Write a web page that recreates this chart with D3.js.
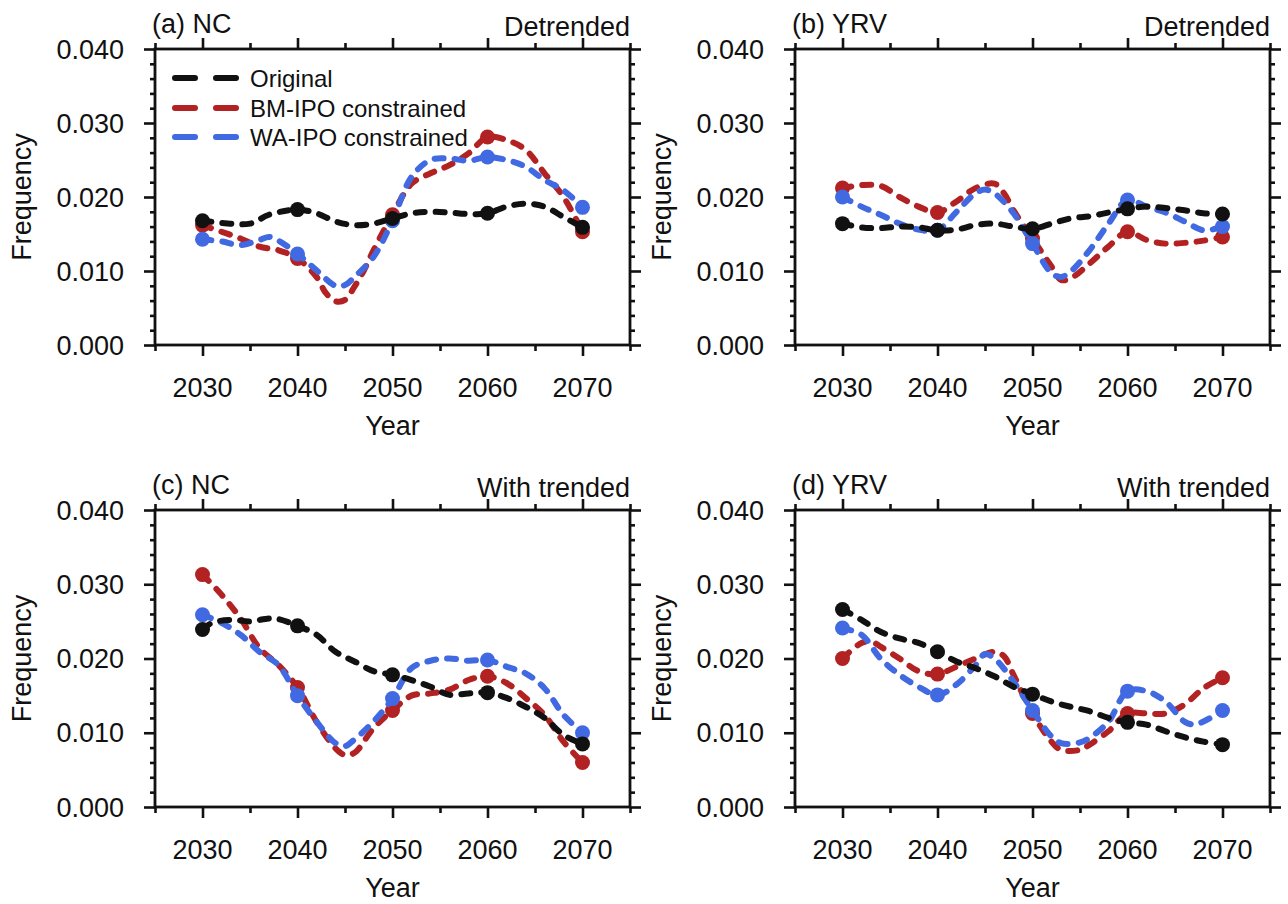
<!DOCTYPE html>
<html>
<head>
<meta charset="utf-8">
<script src="https://cdn.jsdelivr.net/npm/d3@7"></script>
<style>
  html, body { margin: 0; padding: 0; background: #fff; }
  text { font-family: "Liberation Sans", Arial, Helvetica, sans-serif; fill: #111; }
</style>
</head>
<body>
<svg id="chart" width="1288" height="904"></svg>
<script>
// ---------------- data ----------------
const xTickValues = [2030, 2040, 2050, 2060, 2070];
const yTickValues = [0.000, 0.010, 0.020, 0.030, 0.040];
const seriesNames = ["Original", "BM-IPO constrained", "WA-IPO constrained"];
const seriesColors = ["#111111", "#B22222", "#4169E1"];
const panelLeftTitles = ["(a) NC", "(b) YRV", "(c) NC", "(d) YRV"];
const panelRightTitles = ["Detrended", "Detrended", "With trended", "With trended"];

// (a) NC detrended
const ncDetOriginal = [[2030,.0168],[2032,.0165],[2035,.0164],[2037,.0176],[2040,.0183],[2042,.0178],[2044,.0167],[2046,.0162],[2048,.0164],[2050,.0171],[2052,.0178],[2054,.0180],[2056,.0179],[2058,.0177],[2060,.0178],[2062,.0187],[2064,.0191],[2066,.0187],[2068,.0173],[2070,.0159]];
const ncDetBM = [[2030,.0162],[2032,.0153],[2034,.0144],[2036,.0133],[2038,.0128],[2040,.0117],[2042,.0092],[2043,.0070],[2044,.0059],[2045,.0061],[2046,.0079],[2047,.0101],[2048,.0128],[2050,.0176],[2052,.0218],[2054,.0232],[2056,.0243],[2058,.0259],[2060,.0281],[2062,.0277],[2064,.0264],[2066,.0232],[2068,.0200],[2070,.0153]];
const ncDetWA = [[2030,.0143],[2032,.0140],[2034,.0135],[2036,.0142],[2037,.0146],[2038,.0141],[2040,.0123],[2042,.0101],[2044,.0080],[2045,.0081],[2046,.0092],[2048,.0119],[2050,.0168],[2052,.0227],[2054,.0250],[2056,.0252],[2058,.0249],[2060,.0254],[2062,.0250],[2064,.0241],[2066,.0223],[2068,.0209],[2070,.0186]];

// (b) YRV detrended
const yrvDetOriginal = [[2030,.0164],[2032,.0159],[2034,.0158],[2036,.0160],[2038,.0159],[2040,.0155],[2042,.0156],[2044,.0162],[2046,.0164],[2048,.0160],[2050,.0157],[2052,.0164],[2054,.0171],[2056,.0174],[2058,.0179],[2060,.0184],[2062,.0187],[2064,.0185],[2066,.0182],[2068,.0178],[2070,.0177]];
const yrvDetBM = [[2030,.0212],[2032,.0216],[2034,.0215],[2036,.0200],[2038,.0187],[2040,.0179],[2042,.0194],[2044,.0212],[2046,.0218],[2047,.0205],[2048,.0182],[2050,.0144],[2052,.0106],[2053,.0088],[2054,.0090],[2056,.0110],[2058,.0133],[2060,.0153],[2062,.0142],[2064,.0137],[2066,.0138],[2068,.0141],[2070,.0146]];
const yrvDetWA = [[2030,.0200],[2032,.0187],[2034,.0176],[2036,.0164],[2038,.0156],[2040,.0155],[2042,.0180],[2044,.0205],[2045,.0210],[2046,.0205],[2048,.0178],[2050,.0137],[2052,.0097],[2053,.0092],[2054,.0099],[2056,.0128],[2058,.0164],[2060,.0196],[2062,.0187],[2064,.0179],[2066,.0167],[2068,.0155],[2070,.0160]];

// (c) NC with trend
const ncTrOriginal = [[2030,.0239],[2031,.0248],[2033,.0252],[2035,.0250],[2037,.0254],[2038,.0253],[2040,.0244],[2042,.0232],[2044,.0209],[2046,.0196],[2048,.0183],[2050,.0178],[2052,.0171],[2054,.0162],[2056,.0151],[2058,.0153],[2060,.0154],[2062,.0147],[2064,.0135],[2066,.0120],[2068,.0097],[2070,.0085]];
const ncTrBM = [[2030,.0313],[2032,.0286],[2034,.0254],[2036,.0214],[2038,.0191],[2040,.0161],[2042,.0115],[2044,.0079],[2045,.0070],[2046,.0073],[2048,.0106],[2050,.0130],[2052,.0150],[2054,.0153],[2056,.0158],[2058,.0171],[2060,.0176],[2062,.0167],[2064,.0147],[2066,.0124],[2068,.0088],[2070,.0060]];
const ncTrWA = [[2030,.0259],[2032,.0248],[2034,.0232],[2036,.0209],[2038,.0191],[2040,.0150],[2042,.0115],[2044,.0086],[2045,.0082],[2046,.0091],[2048,.0115],[2050,.0146],[2052,.0187],[2054,.0197],[2056,.0200],[2058,.0197],[2060,.0198],[2062,.0189],[2064,.0180],[2066,.0160],[2068,.0124],[2070,.0100]];

// (d) YRV with trend
const yrvTrOriginal = [[2030,.0266],[2032,.0252],[2034,.0236],[2036,.0227],[2038,.0221],[2040,.0209],[2042,.0196],[2044,.0187],[2046,.0176],[2048,.0162],[2050,.0152],[2052,.0142],[2054,.0135],[2056,.0129],[2058,.0120],[2060,.0114],[2062,.0111],[2064,.0102],[2066,.0094],[2068,.0088],[2070,.0084]];
const yrvTrBM = [[2030,.0200],[2032,.0221],[2033,.0223],[2034,.0216],[2036,.0200],[2038,.0183],[2040,.0179],[2042,.0189],[2044,.0200],[2046,.0209],[2047,.0203],[2048,.0178],[2050,.0126],[2052,.0088],[2053,.0077],[2055,.0077],[2056,.0084],[2058,.0102],[2060,.0126],[2062,.0126],[2064,.0126],[2066,.0138],[2068,.0160],[2070,.0174]];
const yrvTrWA = [[2030,.0241],[2032,.0232],[2034,.0200],[2036,.0178],[2038,.0162],[2040,.0151],[2042,.0165],[2044,.0191],[2045,.0206],[2046,.0200],[2048,.0169],[2050,.0130],[2052,.0095],[2053,.0086],[2055,.0087],[2056,.0093],[2058,.0115],[2060,.0156],[2062,.0156],[2064,.0142],[2066,.0115],[2067,.0111],[2068,.0115],[2070,.0130]];

const panelSeries = [
  [ncDetOriginal, ncDetBM, ncDetWA],
  [yrvDetOriginal, yrvDetBM, yrvDetWA],
  [ncTrOriginal, ncTrBM, ncTrWA],
  [yrvTrOriginal, yrvTrBM, yrvTrWA]
];

// ---------------- layout ----------------
const svg = d3.select("#chart");
svg.append("rect").attr("width", 1288).attr("height", 904).attr("fill", "#fff");

const frames = [
  {x0: 155, x1: 630, y0: 49, y1: 345},
  {x0: 795, x1: 1270, y0: 49, y1: 345},
  {x0: 155, x1: 630, y0: 510, y1: 807},
  {x0: 795, x1: 1270, y0: 510, y1: 807}
];

const ink = "#111";
const fmt = d3.format(".3f");

frames.forEach((f, pi) => {
  const x = d3.scaleLinear().domain([2025, 2075]).range([f.x0, f.x1]);
  const y = d3.scaleLinear().domain([0, 0.04]).range([f.y1, f.y0]);
  const g = svg.append("g");

  const xMinor = d3.range(2025, 2076, 5).filter(v => v % 10 !== 0);
  const yMinor = d3.range(0, 0.0401, 0.002).filter(v => Math.abs(Math.round(v * 1000) % 10) !== 0);

  const styleAxis = sel => {
    sel.select(".domain").remove();
    sel.selectAll("line").attr("stroke", ink).attr("stroke-width", 2.6);
  };
  g.append("g").attr("transform", `translate(0,${f.y1})`)
    .call(d3.axisBottom(x).tickValues(xTickValues).tickSize(11).tickFormat(""))
    .call(styleAxis);
  g.append("g").attr("transform", `translate(0,${f.y1})`)
    .call(d3.axisBottom(x).tickValues(xMinor).tickSize(6).tickFormat(""))
    .call(styleAxis);
  g.append("g").attr("transform", `translate(0,${f.y0})`)
    .call(d3.axisTop(x).tickValues(xTickValues).tickSize(11).tickFormat(""))
    .call(styleAxis);
  g.append("g").attr("transform", `translate(0,${f.y0})`)
    .call(d3.axisTop(x).tickValues(xMinor).tickSize(6).tickFormat(""))
    .call(styleAxis);
  g.append("g").attr("transform", `translate(${f.x0},0)`)
    .call(d3.axisLeft(y).tickValues(yTickValues).tickSize(11).tickFormat(""))
    .call(styleAxis);
  g.append("g").attr("transform", `translate(${f.x0},0)`)
    .call(d3.axisLeft(y).tickValues(yMinor).tickSize(5).tickFormat(""))
    .call(styleAxis);
  g.append("g").attr("transform", `translate(${f.x1},0)`)
    .call(d3.axisRight(y).tickValues(yTickValues).tickSize(11).tickFormat(""))
    .call(styleAxis);
  g.append("g").attr("transform", `translate(${f.x1},0)`)
    .call(d3.axisRight(y).tickValues(yMinor).tickSize(5).tickFormat(""))
    .call(styleAxis);

  g.selectAll(".xl").data(xTickValues).enter().append("text")
    .attr("x", d => x(d)).attr("y", f.y1 + 52)
    .attr("text-anchor", "middle").attr("font-size", 27).text(d => d);
  g.selectAll(".yl").data(yTickValues).enter().append("text")
    .attr("x", f.x0 - 31).attr("y", d => y(d) + 9.5)
    .attr("text-anchor", "end").attr("font-size", 27).text(d => fmt(d));

  g.append("text").attr("x", (f.x0 + f.x1) / 2).attr("y", f.y1 + 90)
    .attr("text-anchor", "middle").attr("font-size", 27).text("Year");
  g.append("text")
    .attr("transform", `translate(${f.x0 - 124},${(f.y0 + f.y1) / 2}) rotate(-90)`)
    .attr("text-anchor", "middle").attr("font-size", 27).text("Frequency");

  g.append("text").attr("x", f.x0 - 3).attr("y", f.y0 - 16)
    .attr("font-size", 27).text(panelLeftTitles[pi]);
  g.append("text").attr("x", f.x1).attr("y", f.y0 - 13)
    .attr("text-anchor", "end").attr("font-size", 27).text(panelRightTitles[pi]);

  const line = d3.line().x(d => x(d[0])).y(d => y(d[1])).curve(d3.curveCatmullRom.alpha(0.5));
  [1, 2, 0].forEach(si => {
    const data = panelSeries[pi][si];
    g.append("path").datum(data)
      .attr("d", line).attr("fill", "none")
      .attr("stroke", seriesColors[si]).attr("stroke-width", 6)
      .attr("stroke-dasharray", "9,11").attr("stroke-linecap", "round");
    g.selectAll(null).data(data.filter(d => xTickValues.includes(d[0]))).enter()
      .append("circle")
      .attr("cx", d => x(d[0])).attr("cy", d => y(d[1])).attr("r", 7.5)
      .attr("fill", seriesColors[si]);
  });

  g.append("rect").attr("x", f.x0).attr("y", f.y0)
    .attr("width", f.x1 - f.x0).attr("height", f.y1 - f.y0)
    .attr("fill", "none").attr("stroke", ink).attr("stroke-width", 2.8);

  if (pi === 0) {
    const rowsY = [78, 108, 137];
    seriesNames.forEach((name, si) => {
      const ly = rowsY[si];
      [[175, 195], [216, 236]].forEach(seg => {
        g.append("line").attr("x1", seg[0]).attr("x2", seg[1])
          .attr("y1", ly).attr("y2", ly)
          .attr("stroke", seriesColors[si]).attr("stroke-width", 6)
          .attr("stroke-linecap", "round");
      });
      g.append("text").attr("x", 250).attr("y", ly + 8.5)
        .attr("font-size", 24).text(name);
    });
  }
});
</script>
</body>
</html>
